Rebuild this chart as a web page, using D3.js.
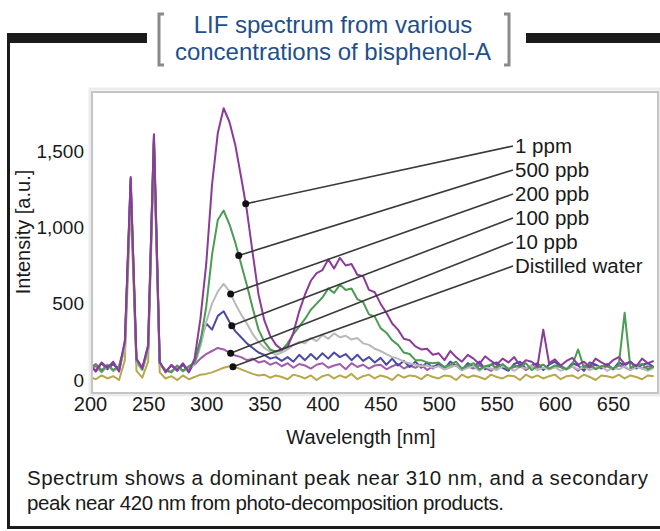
<!DOCTYPE html>
<html>
<head>
<meta charset="utf-8">
<script src="https://cdn.jsdelivr.net/npm/d3@7"></script>
<style>
    body { margin: 0; background: #ffffff; }
    #chart { width: 660px; height: 531px; display: block; }
    text { font-family: "Liberation Sans", Arial, sans-serif; }
</style>
</head>
<body>
<svg id="chart"></svg>
<script>

// sampling grid [nm]
var wavelengths = [
    200, 205, 210, 215, 220, 225, 230, 235, 240, 245,
    250, 255, 260, 265, 270, 275, 280, 285, 290, 295,
    300, 305, 310, 315, 320, 325, 330, 335, 340, 345,
    350, 355, 360, 365, 370, 375, 380, 385, 390, 395,
    400, 405, 410, 415, 420, 425, 430, 435, 440, 445,
    450, 455, 460, 465, 470, 475, 480, 485, 490, 495,
    500, 505, 510, 515, 520, 525, 530, 535, 540, 545,
    550, 555, 560, 565, 570, 575, 580, 585, 590, 595,
    600, 605, 610, 615, 620, 625, 630, 635, 640, 645,
    650, 655, 660, 665, 670, 675, 680, 685
];

var ppm1 = [
    95, 60, 115, 80, 120, 55, 260, 1330, 140, 80,
    230, 1610, 120, 50, 100, 65, 110, 55, 140, 400,
    760, 1280, 1620, 1780, 1690, 1540, 1330, 1110, 830, 560,
    390, 290, 230, 200, 215, 310, 450, 560, 650, 700,
    720, 790, 730, 800, 750, 760, 690, 680, 590, 575,
    500, 440, 370, 330, 270, 260, 220, 200, 205, 165,
    175, 130, 190, 150, 120, 165, 140, 105, 155, 125,
    100, 140, 115, 150, 95, 130, 120, 90, 330, 110,
    135, 95, 125, 145, 100, 120, 85, 140, 115, 95,
    130, 150, 105, 120, 90, 140, 110, 125
];

var ppb500 = [
    70, 95, 55, 100, 65, 90, 240, 1300, 130, 70,
    210, 1580, 110, 65, 50, 95, 60, 90, 110, 250,
    480, 820, 1050, 1110, 1020, 900, 760, 620, 470, 330,
    250, 200, 185, 195, 240, 300, 350, 400, 460, 500,
    540, 600, 570, 625, 590, 600, 530, 510, 430, 415,
    340, 310, 260, 230, 180, 170, 130, 130, 115, 110,
    115, 85, 100, 120, 75, 95, 110, 70, 90, 100,
    80, 105, 70, 95, 85, 110, 65, 90, 100, 75,
    95, 85, 70, 100, 200, 80, 105, 70, 90, 95,
    75, 100, 440, 80, 95, 105, 70, 90
];

var ppb200 = [
    60, 85, 50, 90, 60, 80, 200, 1250, 110, 65,
    190, 1540, 100, 60, 50, 85, 55, 80, 100, 220,
    380, 500, 580, 630, 580, 500, 430, 370, 300, 250,
    210, 185, 165, 180, 200, 230, 250, 240, 275, 255,
    295, 270, 305, 280, 290, 265, 275, 240, 230, 205,
    190, 170, 150, 140, 120, 110, 100, 90, 95, 80,
    90, 70, 85, 95, 65, 80, 90, 60, 85, 75,
    65, 90, 80, 60, 85, 75, 95, 65, 80, 70,
    85, 60, 75, 90, 70, 85, 65, 80, 90, 60,
    80, 70, 90, 65, 85, 75, 60, 80
];

var ppb100 = [
    100, 55, 110, 70, 105, 60, 230, 1320, 120, 70,
    220, 1600, 115, 55, 95, 60, 100, 50, 120, 260,
    370, 330, 420, 450, 380, 320, 280, 240, 210, 180,
    165, 140, 150, 125, 150, 120, 165, 130, 170, 135,
    175, 140, 180, 150, 170, 130, 165, 125, 150, 115,
    145, 100, 140, 95, 125, 85, 120, 80, 115, 75,
    110, 75, 120, 95, 65, 110, 85, 120, 70, 100,
    115, 80, 60, 105, 120, 75, 95, 110, 65, 100,
    120, 85, 70, 110, 95, 60, 115, 100, 80, 105,
    70, 115, 95, 120, 75, 100, 110, 85
];

var ppb10 = [
    80, 105, 65, 95, 60, 90, 220, 1280, 115, 65,
    200, 1560, 105, 65, 55, 90, 60, 85, 100, 140,
    170, 190, 210, 200, 180, 160, 150, 130, 140, 115,
    125, 100, 115, 90, 110, 80, 105, 95, 75, 100,
    110, 80, 95, 105, 70, 110, 85, 100, 75, 95,
    100, 70, 90, 105, 75, 95, 80, 100, 65, 90,
    95, 70, 85, 100, 65, 90, 75, 95, 80, 60,
    90, 100, 70, 85, 95, 65, 90, 80, 100, 70,
    85, 95, 70, 90, 60, 95, 80, 100, 75, 90,
    70, 95, 85, 65, 100, 75, 90, 80
];

var water = [
    20, 5, 30, 10, 25, 0, 130, 1180, 60, 15,
    120, 1480, 50, 10, 25, 0, 30, 5, 20, 35,
    40, 50, 65, 80, 90, 85, 70, 55, 40, 30,
    35, 15, 30, 20, 5, 35, 25, 10, 30, 0,
    25, 35, 10, 30, 15, 40, 5, 25, 35, 10,
    30, 20, 0, 35, 15, 30, 25, 5, 35, 20,
    10, 30, 25, 0, 35, 15, 30, 20, 5, 35,
    20, 10, 30, 25, 0, 35, 15, 30, 10, 25,
    35, 5, 25, 30, 10, 35, 20, 0, 30, 25,
    15, 35, 10, 30, 20, 5, 30, 25
];

// legend order (top to bottom)
var labels = ["1 ppm", "500 ppb", "200 ppb", "100 ppb", "10 ppb", "Distilled water"];
var series = [ppm1, ppb500, ppb200, ppb100, ppb10, water];

// wavelength where each leader line touches its curve
var calloutNm = [334, 328, 321, 322, 321, 323];

var xTicks = [200, 250, 300, 350, 400, 450, 500, 550, 600, 650];
var yTicks = [0, 500, 1000, 1500];

var titleLines = ["LIF spectrum from various", "concentrations of bisphenol-A"];
var captionLines = [
    "Spectrum shows a dominant peak near 310 nm, and a secondary",
    "peak near 420 nm from photo-decomposition products."
];


class SpectrumChart {

    constructor(id) {

        this.svg = d3.select("#" + id);

        this.color = [
            '#8b3b99',
            '#4b9b52',
            '#b9b9b9',
            '#4a4aa6',
            '#a15cab',
            '#b8a84c'
        ];

        this.box = { left: 92, top: 92, right: 658, bottom: 393 };

        // measured widths of the caption lines in the original
        this.captionWidth = [621, 477];

    }

    setup() {
        this.svg.attr("width", 660);
        this.svg.attr("height", 531);
        this.drawFrame();
        this.drawTitle();
        this.computeScales();
        this.drawPlotBox();
        this.drawAxes();
        this.drawLines();
        this.drawCallouts();
        this.drawCaption();
    }

    drawFrame() {

        var ink = "#1b1b1b";

        this.svg.append("rect").attr("x", 7).attr("y", 33).attr("width", 140).attr("height", 10).attr("fill", ink);
        this.svg.append("rect").attr("x", 526).attr("y", 33).attr("width", 134).attr("height", 10).attr("fill", ink);
        this.svg.append("rect").attr("x", 7).attr("y", 33).attr("width", 3).attr("height", 496).attr("fill", ink);
        this.svg.append("rect").attr("x", 7).attr("y", 526).attr("width", 653).attr("height", 3).attr("fill", ink);

    }

    drawTitle() {

        var bracket = this.svg.append("path");
        bracket.attr("d", "M164,14 H159 V65 H164");
        bracket.attr("stroke", "#8a8a8a");
        bracket.attr("stroke-width", 3);
        bracket.attr("fill", "none");

        var bracket2 = this.svg.append("path");
        bracket2.attr("d", "M504,14 H509 V65 H504");
        bracket2.attr("stroke", "#8a8a8a");
        bracket2.attr("stroke-width", 3);
        bracket2.attr("fill", "none");

        for (var idx = 0; idx < titleLines.length; idx += 1) {

            var text = this.svg.append("text");
            text.attr("x", 333);
            text.attr("y", 33 + 27 * idx);
            text.attr("text-anchor", "middle");
            text.attr("fill", "#1f4f8d");
            text.attr("font-size", "24px");
            text.text(titleLines[idx]);

        }

    }

    computeScales() {

        // 200 nm sits a bit left of the box, 650 nm well inside it
        this.x = d3.scaleLinear()
            .domain([200, 650])
            .range([90, 613]);

        this.y = d3.scaleLinear()
            .domain([0, 1500])
            .range([380, 151]);

    }

    drawPlotBox() {

        var b = this.box;

        var shade = this.svg.append("rect");
        shade.attr("x", b.left - 2);
        shade.attr("y", b.top - 3);
        shade.attr("width", b.right - b.left + 4);
        shade.attr("height", b.bottom - b.top + 5);
        shade.attr("fill", "none");
        shade.attr("stroke", "#ececec");
        shade.attr("stroke-width", 3);

        var frame = this.svg.append("rect");
        frame.attr("x", b.left);
        frame.attr("y", b.top);
        frame.attr("width", b.right - b.left);
        frame.attr("height", b.bottom - b.top);
        frame.attr("fill", "#ffffff");
        frame.attr("stroke", "#c4c4c4");
        frame.attr("stroke-width", 2);

        this.svg.append("clipPath")
            .attr("id", "plotclip")
            .append("rect")
            .attr("x", b.left + 1)
            .attr("y", b.top + 1)
            .attr("width", b.right - b.left - 2)
            .attr("height", b.bottom - b.top - 2);

    }

    drawAxes() {

        var xAxis = this.svg.append("g")
            .attr("transform", "translate(0,397)")
            .call(d3.axisBottom(this.x).tickValues(xTicks).tickSize(0).tickPadding(0));

        xAxis.select(".domain").remove();
        xAxis.selectAll("text")
            .attr("dy", "0.71em")
            .attr("font-size", "20px")
            .attr("font-family", "Liberation Sans, Arial, sans-serif")
            .attr("fill", "#1a1a1a");

        var yAxis = this.svg.append("g")
            .attr("transform", "translate(84,0)")
            .call(d3.axisLeft(this.y).tickValues(yTicks).tickSize(0).tickPadding(0).tickFormat(d3.format(",")));

        yAxis.select(".domain").remove();
        yAxis.selectAll("text")
            .attr("font-size", "19px")
            .attr("font-family", "Liberation Sans, Arial, sans-serif")
            .attr("fill", "#1a1a1a");

        var xlabel = this.svg.append("text");
        xlabel.attr("x", 361);
        xlabel.attr("y", 444);
        xlabel.attr("text-anchor", "middle");
        xlabel.attr("font-size", "20px");
        xlabel.attr("fill", "#1a1a1a");
        xlabel.text("Wavelength [nm]");

        var ylabel = this.svg.append("text");
        ylabel.attr("transform", "translate(30,232) rotate(-90)");
        ylabel.attr("text-anchor", "middle");
        ylabel.attr("font-size", "20px");
        ylabel.attr("fill", "#1a1a1a");
        ylabel.text("Intensity [a.u.]");

    }

    drawLines() {

        var self = this;

        var line = d3.line()
            .x(function (d, i) { return self.x(wavelengths[i]); })
            .y(function (d) { return self.y(d); });

        var plot = this.svg.append("g").attr("clip-path", "url(#plotclip)");

        // weakest signal first so the strong ones sit on top
        for (var idx = series.length - 1; idx >= 0; idx -= 1) {

            var path = plot.append("path");
            path.attr("d", line(series[idx]));
            path.attr("stroke", this.color[idx]);
            path.attr("stroke-width", 2);
            path.attr("stroke-linejoin", "round");
            path.attr("fill", "none");

        }

    }

    drawCallouts() {

        var labelX = 515;
        var labelY = 146;
        var step = 24;

        for (var idx = 0; idx < series.length; idx += 1) {

            var nm = calloutNm[idx];
            var value = d3.scaleLinear().domain(wavelengths).range(series[idx])(nm);

            var px = this.x(nm);
            var py = this.y(value);

            var path = this.svg.append("path");
            path.attr("d", d3.line()([[px, py], [labelX - 2, labelY + step * idx]]));
            path.attr("stroke", "#3a3a3a");
            path.attr("stroke-width", 1.6);
            path.attr("fill", "none");

            var dot = this.svg.append("circle");
            dot.attr("cx", px);
            dot.attr("cy", py);
            dot.attr("r", 3.5);
            dot.attr("fill", "#111111");

            var text = this.svg.append("text");
            text.attr("x", labelX);
            text.attr("y", labelY + step * idx + 7);
            text.attr("fill", "#1a1a1a");
            text.attr("font-size", "20.5px");
            text.text(labels[idx]);

        }

    }

    drawCaption() {

        for (var idx = 0; idx < captionLines.length; idx += 1) {

            var text = this.svg.append("text");
            text.attr("x", 27);
            text.attr("y", 485 + 25 * idx);
            text.attr("fill", "#1a1a1a");
            text.attr("font-size", "20.5px");
            text.attr("textLength", this.captionWidth[idx]);
            text.attr("lengthAdjust", "spacing");
            text.text(captionLines[idx]);

        }

    }

}

var chart = new SpectrumChart("chart");
chart.setup();

</script>
</body>
</html>
